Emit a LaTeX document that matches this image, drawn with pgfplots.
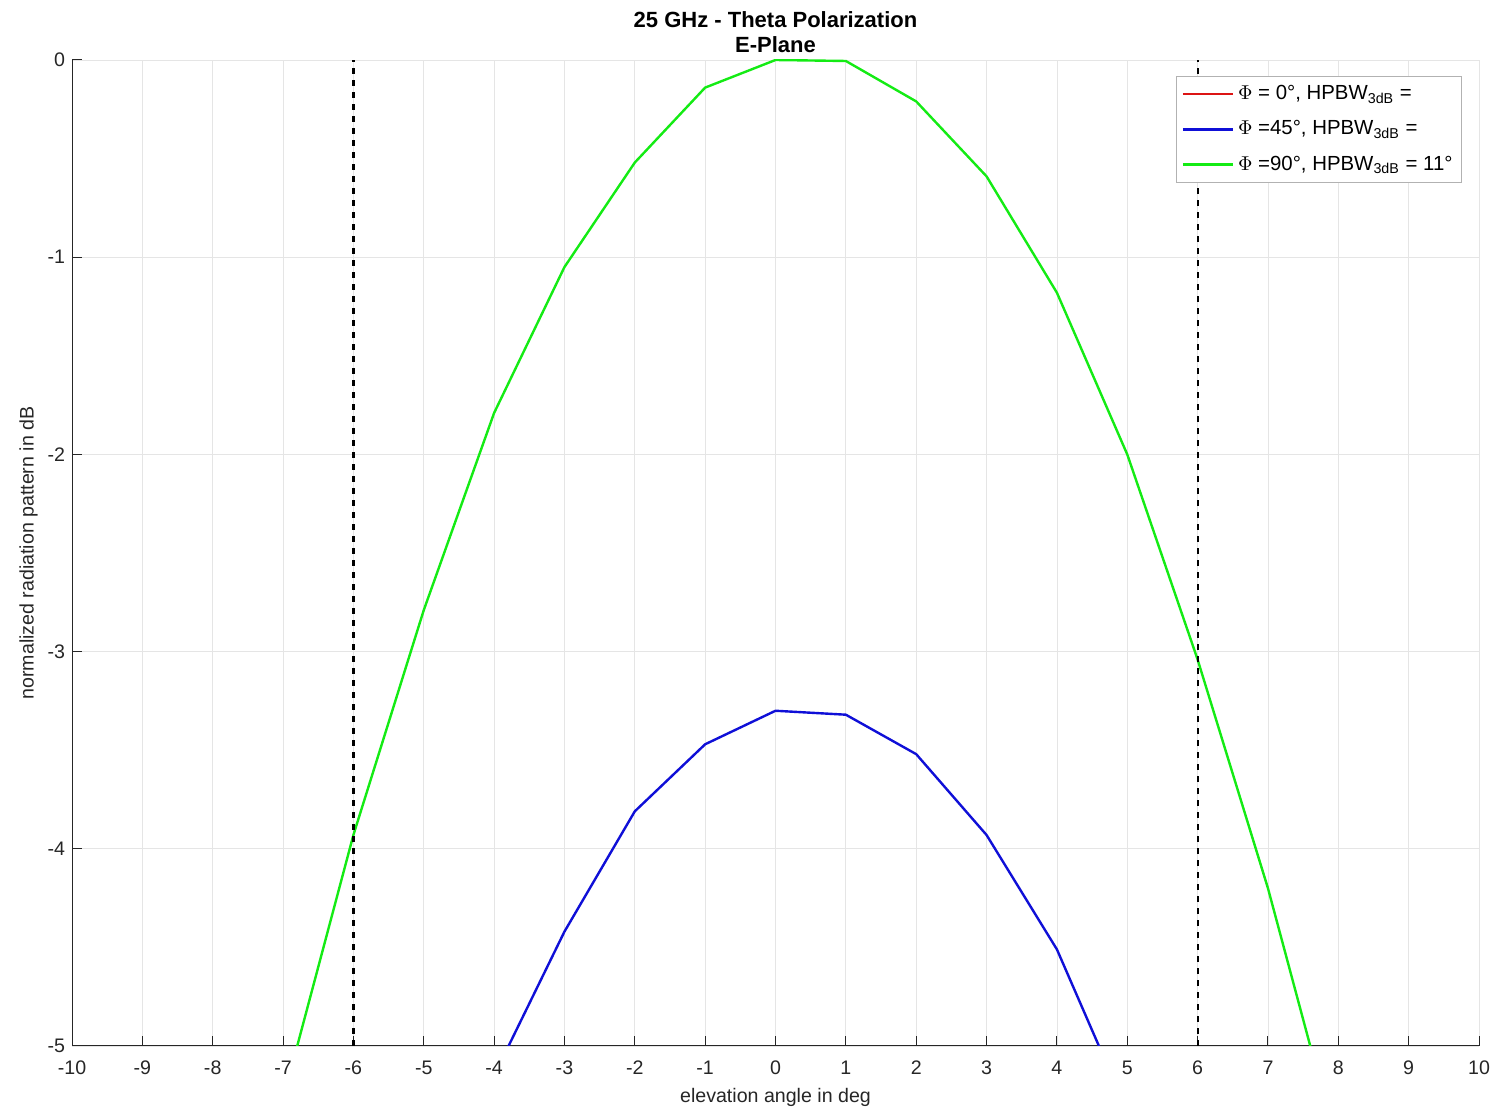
\documentclass[border=0pt]{standalone}
\usepackage{pgfplots}
\pgfplotsset{compat=1.18}
\usepackage{fontspec}
\setmainfont{Liberation Sans}
\definecolor{axgray}{gray}{0.15}
\definecolor{mgreen}{RGB}{20,235,20}
\definecolor{mblue}{RGB}{15,15,215}
\definecolor{mred}{RGB}{220,20,20}
\begin{document}
\begin{tikzpicture}[x=1pt,y=1pt]
\path[use as bounding box] (0,0) rectangle (748,555);
\begin{axis}[
  at={(36pt,32pt)}, anchor=south west,
  scale only axis, width=703.5pt, height=493pt,
  xmin=-10, xmax=10, ymin=-5, ymax=0,
  xtick={-10,-9,...,10}, ytick={-5,-4,...,0},
  axis x line*=bottom, axis y line*=left,
  axis line style={axgray, line width=0.5pt, -},
  tick style={axgray, line width=0.5pt}, tick align=inside, major tick length=5pt,
  grid=major, grid style={gray!20, line width=0.4pt},
  ticklabel style={font=\fontsize{9.8}{11}\selectfont, text=axgray},
  xticklabel style={yshift=-4pt},
  /pgf/number format/assume math mode=true,
  xlabel={elevation angle in deg}, ylabel={normalized radiation pattern in dB},
  label style={font=\fontsize{9.8}{11}\selectfont, text=axgray},
  xlabel style={yshift=0pt}, ylabel style={yshift=-2pt},
  title={\textbf{25 GHz - Theta Polarization}\\\textbf{E-Plane}},
  title style={font=\fontsize{11}{12.5}\selectfont, align=center, yshift=-6pt},
  legend style={at={(1,1)}, anchor=north east, xshift=-8.5pt, yshift=-8pt,
    font=\fontsize{10.2}{14}\selectfont, draw=gray!60, line width=0.5pt, inner sep=2.5pt,
    row sep=5pt, cells={anchor=west}},
  legend image post style={line width=1.2pt},
  legend image code/.code={\draw[#1] (0cm,0cm) -- (25pt,0cm);},
]
\addlegendimage{mred, line width=1.2pt}
\addlegendentry{$\Phi$ = 0°, HPBW\textsubscript{3dB} =}
\addplot[mblue, line width=1.2pt] coordinates {
(-4,-5.15) (-3,-4.42) (-2,-3.81) (-1,-3.47) (0,-3.30) (1,-3.32) (2,-3.52) (3,-3.93) (4,-4.51) (5,-5.33)};
\addlegendentry{$\Phi$ =45°, HPBW\textsubscript{3dB} =}
\addplot[mgreen, line width=1.2pt] coordinates {
(-7,-5.27) (-6,-3.93) (-5,-2.79) (-4,-1.79) (-3,-1.05) (-2,-0.52) (-1,-0.14) (0,0) (1,-0.005) (2,-0.21) (3,-0.59) (4,-1.18) (5,-2.0) (6,-3.04) (7,-4.2) (8,-5.53)};
\addlegendentry{$\Phi$ =90°, HPBW\textsubscript{3dB} = 11°}
\addplot[black, dashed, line width=1.1pt, forget plot] coordinates {(-6,-5) (-6,0)};
\addplot[black, dashed, line width=1.1pt, forget plot] coordinates {(6,-5) (6,0)};
\end{axis}
\end{tikzpicture}
\end{document}
